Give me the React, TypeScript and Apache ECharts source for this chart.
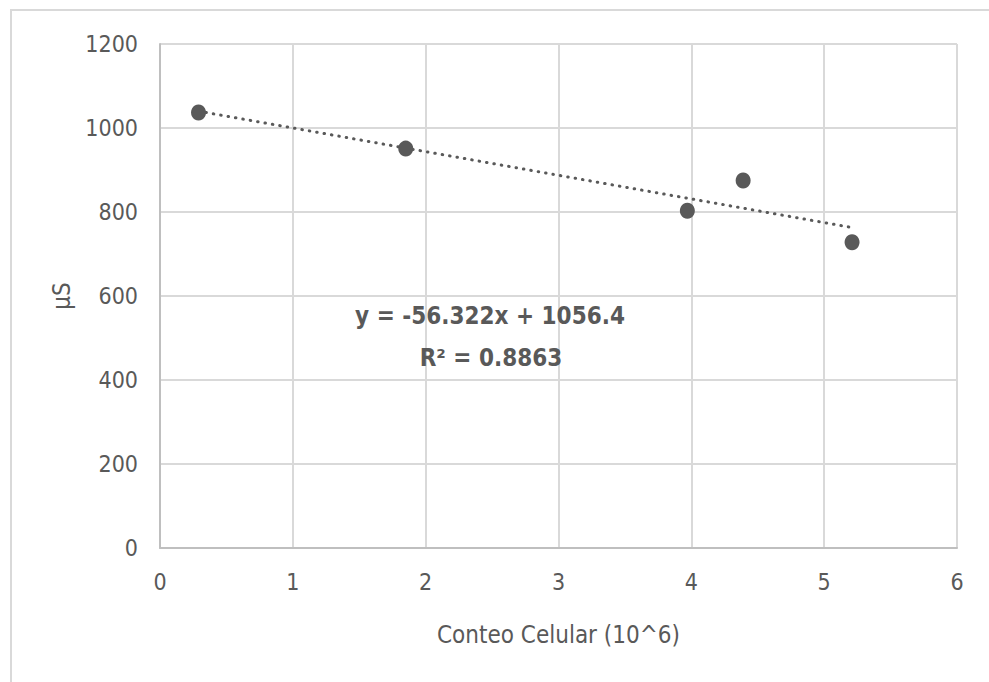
import React, { useEffect, useRef } from "react";
import * as echarts from "echarts";

const xValues = [0.29, 1.85, 3.97, 4.39, 5.21];
const yValues = [1037, 951, 803, 875, 728];
const trendX = [0.29, 5.21];
const trendY = [1040.1, 763.0];
const equationText = "y = -56.322x + 1056.4";
const r2Text = "R² = 0.8863";
const xTicks = [0, 1, 2, 3, 4, 5, 6];
const yTicks = [0, 200, 400, 600, 800, 1000, 1200];
const xName = "Conteo Celular (10^6)";
const yName = "µS";

const FONT = "'Liberation Sans Narrow', 'DejaVu Sans Condensed', 'Liberation Sans', sans-serif";
const GREY = "#595959";

export default function App() {
  const ref = useRef<HTMLDivElement>(null);
  useEffect(() => {
    if (!ref.current) return;
    const chart = echarts.init(ref.current, null, { renderer: "svg" });
    chart.setOption({
      animation: false,
      backgroundColor: "#ffffff",
      grid: { left: 160, top: 44, right: 32, bottom: 134 },
      xAxis: {
        type: "value",
        min: xTicks[0],
        max: xTicks[xTicks.length - 1],
        interval: 1,
        name: xName,
        nameLocation: "middle",
        nameGap: 75,
        nameTextStyle: { color: GREY, fontSize: 24, fontFamily: FONT },
        axisLine: { show: true, lineStyle: { color: "#bfbfbf", width: 2 } },
        axisTick: { show: false },
        axisLabel: { color: GREY, fontSize: 23, fontFamily: FONT, margin: 22, formatter: (v: number) => String(v) },
        splitLine: { show: true, lineStyle: { color: "#d9d9d9", width: 2 } },
      },
      yAxis: {
        type: "value",
        min: yTicks[0],
        max: yTicks[yTicks.length - 1],
        interval: 200,
        name: yName,
        nameLocation: "middle",
        nameGap: 86,
        nameRotate: 90,
        nameTextStyle: { color: GREY, fontSize: 24, fontFamily: FONT },
        axisLine: { show: true, lineStyle: { color: "#bfbfbf", width: 2 } },
        axisTick: { show: false },
        axisLabel: { color: GREY, fontSize: 23, fontFamily: FONT, margin: 22, formatter: (v: number) => String(v) },
        splitLine: { show: true, lineStyle: { color: "#d9d9d9", width: 2 } },
      },
      graphic: [
        {
          type: "rect",
          shape: { x: 11, y: 10, width: 1000, height: 700 },
          style: { fill: "none", stroke: "#d9d9d9", lineWidth: 2 },
          silent: true,
          z: -1,
        },
        {
          type: "text",
          x: 490,
          y: 316,
          style: {
            text: equationText,
            fill: GREY,
            font: `bold 24px ${FONT}`,
            textAlign: "center",
            textVerticalAlign: "middle",
          },
          z: 10,
        },
        {
          type: "text",
          x: 491,
          y: 358,
          style: {
            text: r2Text,
            fill: GREY,
            font: `bold 24px ${FONT}`,
            textAlign: "center",
            textVerticalAlign: "middle",
          },
          z: 10,
        },
      ],
      series: [
        {
          type: "line",
          data: trendX.map((x, i) => [x, trendY[i]]),
          showSymbol: false,
          symbol: "none",
          lineStyle: { color: GREY, width: 3, type: [0.5, 7], cap: "round" },
          z: 2,
        },
        {
          type: "scatter",
          data: xValues.map((x, i) => [x, yValues[i]]),
          symbol: "circle",
          symbolSize: [15, 16],
          itemStyle: { color: GREY, opacity: 1 },
          z: 3,
        },
      ],
    });
    return () => chart.dispose();
  }, []);
  return (
    <div
      ref={ref}
      style={{ position: "absolute", left: 0, top: 0, width: 989, height: 682 }}
    />
  );
}
